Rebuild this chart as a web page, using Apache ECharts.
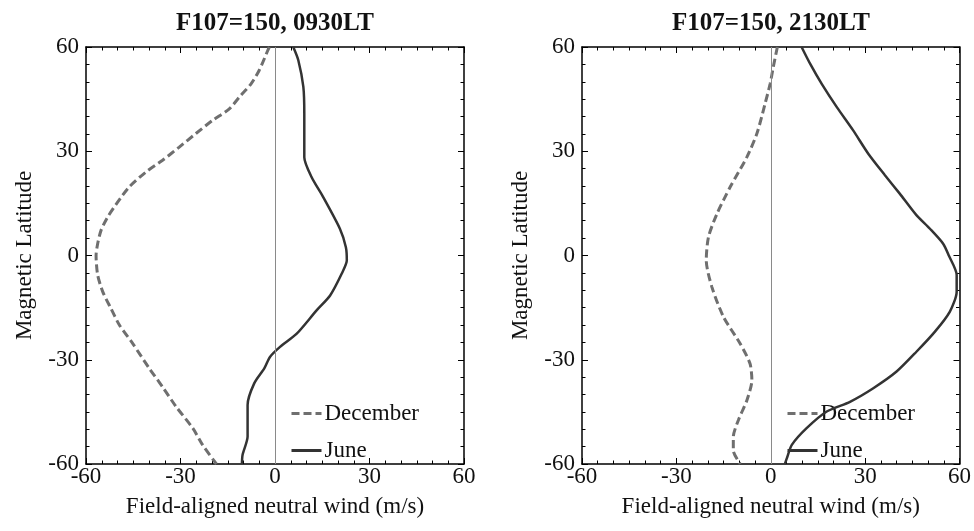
<!DOCTYPE html>
<html>
<head>
<meta charset="utf-8">
<title>Field-aligned neutral wind</title>
<script src="https://cdn.jsdelivr.net/npm/echarts@6/dist/echarts.min.js"></script>
<style>
  html, body { margin: 0; padding: 0; background: #fff; }
  #chart { width: 974px; height: 531px; }
</style>
</head>
<body>
<div id="chart"></div>
<script>
// panel titles and legend names
const panelTitles = ['F107=150, 0930LT', 'F107=150, 2130LT']
const seriesNames = ['December', 'June']
const tickValues = [-60, -30, 0, 30, 60]

// 0930LT, December (dashed)
const latDec0930 = [60, 59, 53.3, 49.4, 45.6, 42.2, 38.9, 35.1, 31.2, 27.4, 24, 19.7, 15.4, 11.1, 7.3, 3.4, 0, -5.6, -10.4, -15.2, -20, -25.3, -32.5, -37.8, -43.5, -49.7, -54.5, -60]
const windDec0930 = [-1.8, -2.3, -5, -7.6, -11.3, -14.5, -19.8, -25.1, -30.4, -35.7, -41, -46.3, -49.9, -53.1, -55.2, -56.3, -56.8, -56.3, -54.7, -52.1, -49.4, -45.2, -39.9, -35.7, -31.4, -26.1, -23, -18.6]
// 0930LT, June (solid)
const latJun0930 = [60, 56.2, 48.5, 40.8, 28.3, 22.6, 16.8, 7.7, 2.4, -1.4, -5.2, -11.5, -15.8, -22.5, -26.3, -29.2, -32.5, -36.8, -43, -52.1, -57.4, -60]
const windJun0930 = [5.8, 7.4, 9, 9.3, 9.3, 11.6, 15.3, 20.6, 22.5, 22.8, 21.2, 17.5, 13.2, 6.9, 1.6, -1.6, -3.4, -6.6, -8.7, -8.7, -10.3, -10.5]

// 2130LT, December (dashed)
const latDec2130 = [60, 54.2, 49.4, 43.7, 35.1, 28.3, 19.7, 12, 5.3, -1.4, -9.1, -17.7, -25.4, -31.1, -35.9, -41.7, -47.4, -52.2, -56.1, -60]
const windDec2130 = [2.1, 0.8, -0.2, -1.8, -4.4, -7.6, -12.9, -17.1, -19.8, -20.5, -18.7, -15, -9.7, -6.6, -6, -7.6, -10.3, -11.9, -11.9, -9.7]
// 2130LT, June (solid)
const latJun2130 = [60, 55.2, 49.4, 42.7, 36, 29.3, 23.1, 17.8, 11.6, 7.7, 3.4, 0, -5.6, -10.4, -16.2, -21.9, -27.7, -33.4, -38.2, -42.1, -44.9, -49.7, -54.5, -58.4, -60]
const windJun2130 = [9.8, 12.5, 16.2, 21, 26.2, 31, 36.3, 41, 46.3, 50.6, 54.8, 56.6, 59.1, 59.1, 56.9, 52.2, 46.3, 40, 32.6, 25.2, 17.8, 11.4, 6.7, 5.1, 4.5]

const font = "'Liberation Serif', 'Times New Roman', serif"
const decColor = '#6f6f6f'
const junColor = '#333333'

function zip(xs, ys) {
  return xs.map((x, i) => [x, ys[i]])
}

// one axis of a panel; labelled axes are bottom / left, the others only draw the frame and ticks
function makeAxis(gridIndex, position, labelled, name) {
  const vertical = position === 'left' || position === 'right'
  return {
    type: 'value',
    gridIndex: gridIndex,
    position: position,
    min: tickValues[0],
    max: tickValues[tickValues.length - 1],
    interval: 30,
    name: labelled ? name : '',
    nameLocation: 'middle',
    nameGap: vertical ? 50 : 31,
    nameTextStyle: { fontFamily: font, fontSize: 23, color: '#111' },
    axisLine: { show: true, onZero: false, lineStyle: { color: '#000', width: 1.5 } },
    axisTick: { show: true, inside: true, length: 6, lineStyle: { color: '#000', width: 1 } },
    minorTick: { show: true, splitNumber: 6, length: 3.5, lineStyle: { color: '#000', width: 1 } },
    axisLabel: {
      show: labelled,
      fontFamily: font,
      fontSize: 23,
      color: '#111',
      margin: vertical ? 7 : 1,
      showMinLabel: true,
      showMaxLabel: true
    },
    splitLine: { show: false }
  }
}

const grids = [
  { left: 86, top: 47, width: 378, height: 417 },
  { left: 582, top: 47, width: 378, height: 417 }
]

const xAxes = []
const yAxes = []
grids.forEach((g, i) => {
  xAxes.push(makeAxis(i, 'bottom', true, 'Field-aligned neutral wind (m/s)'))
  xAxes.push(makeAxis(i, 'top', false))
  yAxes.push(makeAxis(i, 'left', true, 'Magnetic Latitude'))
  yAxes.push(makeAxis(i, 'right', false))
})

const zeroLine = {
  silent: true,
  symbol: 'none',
  label: { show: false },
  lineStyle: { color: '#8a8a8a', width: 1, type: 'solid' },
  data: [{ xAxis: 0 }]
}

function decSeries(panel, wind, lat) {
  return {
    name: seriesNames[0],
    type: 'line',
    xAxisIndex: panel * 2,
    yAxisIndex: panel * 2,
    data: zip(wind, lat),
    symbol: 'none',
    smooth: 0.25,
    lineStyle: { color: decColor, width: 3, type: [8, 4] },
    itemStyle: { color: decColor },
    markLine: zeroLine,
    z: 3
  }
}

function junSeries(panel, wind, lat) {
  return {
    name: seriesNames[1],
    type: 'line',
    xAxisIndex: panel * 2,
    yAxisIndex: panel * 2,
    data: zip(wind, lat),
    symbol: 'none',
    smooth: 0.25,
    lineStyle: { color: junColor, width: 2.5, type: 'solid' },
    itemStyle: { color: junColor },
    z: 4
  }
}

function makeLegend(left) {
  return {
    data: seriesNames,
    orient: 'vertical',
    left: left,
    top: 402,
    padding: 0,
    itemWidth: 30,
    itemHeight: 12,
    itemGap: 14,
    selectedMode: false,
    // hide the symbol dot, keep the line sample
    itemStyle: { opacity: 0 },
    lineStyle: { width: 3 },
    textStyle: { fontFamily: font, fontSize: 23, color: '#111', padding: [0, 0, 0, -2] }
  }
}

function makeTitle(text, center) {
  return {
    text: text,
    left: center,
    top: 11,
    padding: 0,
    textAlign: 'center',
    textVerticalAlign: 'top',
    textStyle: { fontFamily: font, fontSize: 25, fontWeight: 'bold', color: '#111' }
  }
}

const chart = echarts.init(document.getElementById('chart'), null, { renderer: 'canvas' })
chart.setOption({
  animation: false,
  backgroundColor: '#fff',
  title: [makeTitle(panelTitles[0], 275), makeTitle(panelTitles[1], 771)],
  legend: [makeLegend(290), makeLegend(786)],
  grid: grids,
  xAxis: xAxes,
  yAxis: yAxes,
  series: [
    decSeries(0, windDec0930, latDec0930),
    junSeries(0, windJun0930, latJun0930),
    decSeries(1, windDec2130, latDec2130),
    junSeries(1, windJun2130, latJun2130)
  ]
})
</script>
</body>
</html>
